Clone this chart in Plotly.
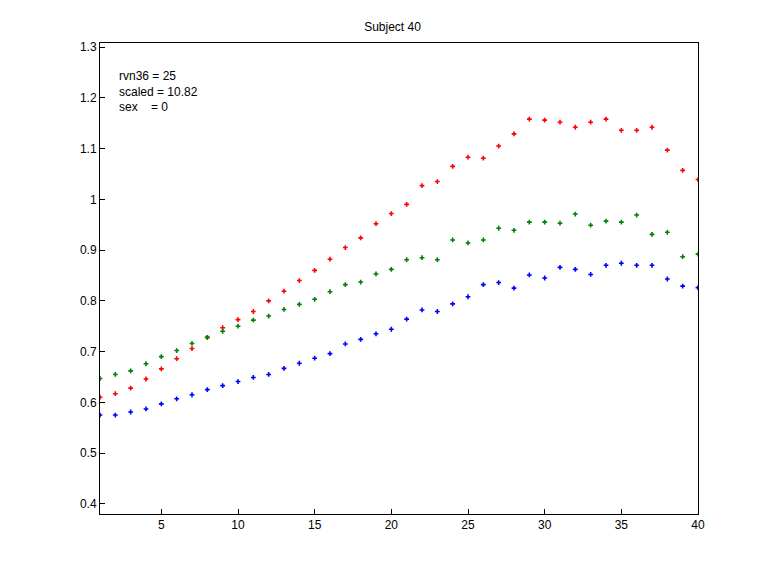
import plotly.graph_objects as go

x = list(range(1, 41))
red = [0.61, 0.617, 0.628, 0.646, 0.666, 0.686, 0.706, 0.728, 0.747, 0.763,
       0.779, 0.80, 0.819, 0.84, 0.86, 0.882, 0.905, 0.924, 0.952, 0.972,
       0.99, 1.027, 1.035, 1.065, 1.083, 1.081, 1.105, 1.129, 1.158, 1.156,
       1.152, 1.142, 1.152, 1.158, 1.136, 1.136, 1.142, 1.097, 1.057, 1.039]
green = [0.647, 0.655, 0.662, 0.676, 0.69, 0.702, 0.716, 0.728, 0.74, 0.75,
         0.762, 0.77, 0.783, 0.793, 0.803, 0.818, 0.832, 0.837, 0.853, 0.862,
         0.881, 0.885, 0.881, 0.92, 0.914, 0.92, 0.943, 0.939, 0.955, 0.955,
         0.953, 0.971, 0.949, 0.957, 0.955, 0.969, 0.931, 0.935, 0.887, 0.892]
blue = [0.575, 0.575, 0.581, 0.587, 0.597, 0.607, 0.615, 0.625, 0.633, 0.641,
        0.649, 0.655, 0.667, 0.677, 0.687, 0.696, 0.715, 0.724, 0.735, 0.744,
        0.764, 0.782, 0.779, 0.794, 0.808, 0.832, 0.836, 0.825, 0.851, 0.845,
        0.866, 0.862, 0.852, 0.87, 0.874, 0.87, 0.87, 0.843, 0.829, 0.826]

fig = go.Figure()
for ys, c in [(red, "red"), (green, "green"), (blue, "blue")]:
    fig.add_trace(go.Scatter(x=x, y=ys, mode="markers",
                             marker=dict(symbol="cross", size=4, color=c),
                             cliponaxis=True, showlegend=False))

fig.add_annotation(x=0.028, y=0.95, xref="paper", yref="paper", xanchor="left", yanchor="top",
                   align="left", showarrow=False,
                   text="rvn36 = 25<br>scaled = 10.82<br>sex    = 0",
                   font=dict(size=12, family="Liberation Sans", color="black"))

axis = dict(showgrid=False, zeroline=False, showline=True, mirror=True, linecolor="black",
            linewidth=1, ticks="inside", ticklen=5, tickcolor="black",
            tickfont=dict(size=12, family="Liberation Sans", color="black"))
fig.update_xaxes(range=[1, 40], tickvals=[5, 10, 15, 20, 25, 30, 35, 40], **axis)
fig.update_yaxes(range=[0.380, 1.308], dtick=0.1, tickformat="~g", **axis)
fig.update_layout(
    width=769, height=576,
    margin=dict(l=92, r=79, t=35, b=70),
    paper_bgcolor="white", plot_bgcolor="white",
    title=dict(text="Subject 40", x=0.5, y=0.975, xanchor="center",
               font=dict(size=12, family="Liberation Sans", color="black")),
)
fig.write_html("out.html")
